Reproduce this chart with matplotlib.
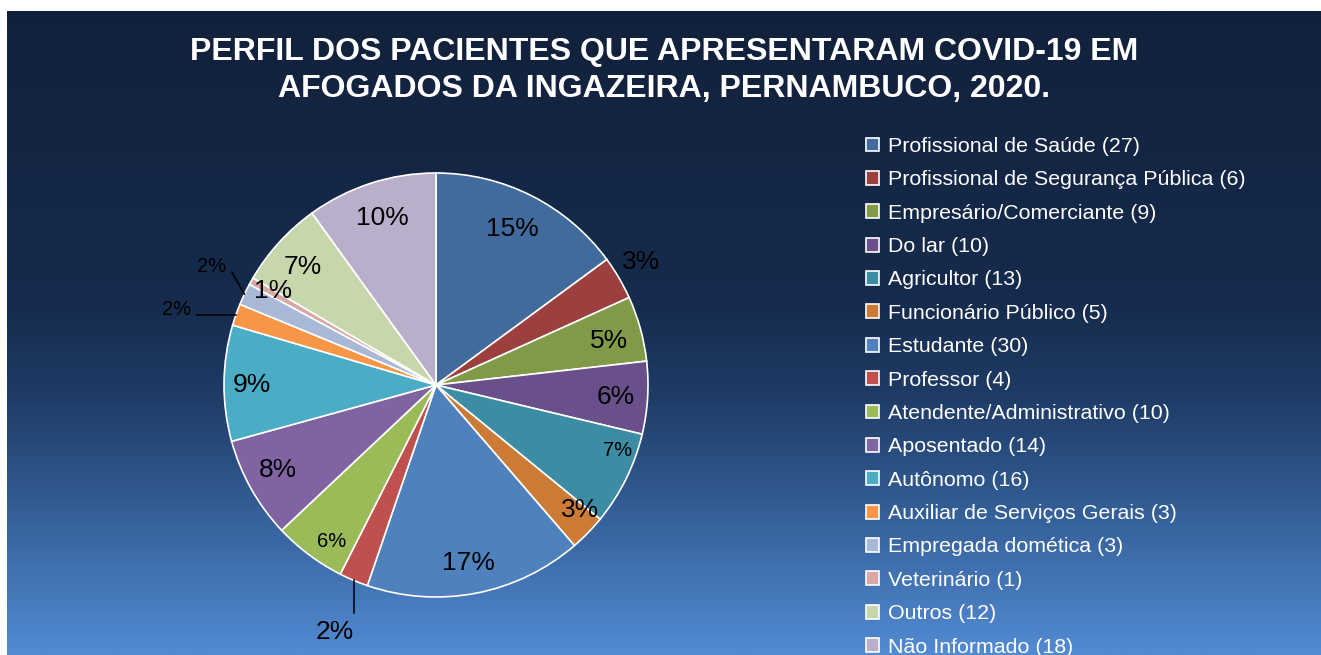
import numpy as np
import matplotlib.pyplot as plt
from matplotlib.colors import LinearSegmentedColormap

plt.rcParams['font.family'] = ['Liberation Sans', 'DejaVu Sans']

W, H = 1321, 655   # output size in pixels

categories = ['Profissional de Saúde', 'Profissional de Segurança Pública',
              'Empresário/Comerciante', 'Do lar', 'Agricultor',
              'Funcionário Público', 'Estudante', 'Professor',
              'Atendente/Administrativo', 'Aposentado', 'Autônomo',
              'Auxiliar de Serviços Gerais', 'Empregada domética',
              'Veterinário', 'Outros', 'Não Informado']
counts = [27, 6, 9, 10, 13, 5, 30, 4, 10, 14, 16, 3, 3, 1, 12, 18]
colors = ['#416b9c', '#9b403e', '#809a48', '#69508a', '#3c8ca3', '#cc7b37',
          '#4f81bd', '#c0504d', '#9bbb59', '#8064a2', '#4bacc6', '#f79646',
          '#a9b8d7', '#d8a8a7', '#c7d6ab', '#baafca']

title = ('PERFIL DOS PACIENTES QUE APRESENTARAM COVID-19 EM\n'
         'AFOGADOS DA INGAZEIRA, PERNAMBUCO, 2020.')

BIG, SMALL = 19, 14.5
# label layout: (radius, angle offset from wedge middle, font size)
inside = {0: (0.82, 0.9, BIG), 1: (1.13, 0.7, BIG), 2: (0.84, -1.1, BIG),
          3: (0.85, -0.3, BIG), 4: (0.91, 6.6, SMALL), 5: (0.90, 3.3, BIG),
          6: (0.853, -0.7, BIG), 8: (0.885, 3.1, SMALL), 9: (0.846, -1.0, BIG),
          10: (0.868, 0.5, BIG), 13: (0.89, -0.7, BIG), 14: (0.84, 0.9, BIG),
          15: (0.83, 0.0, BIG)}
# small slices with leader line: (leader vector, text offset from line end, font size)
leaders = {7: ((0.0, -0.155), (-0.09, -0.09), BIG),
           11: ((-0.184, 0.0), (-0.095, 0.026), SMALL),
           12: ((-0.059, 0.104), (-0.095, 0.028), SMALL)}

fig = plt.figure(figsize=(W / 100, H / 100), dpi=100)
fig.patch.set_facecolor('white')

# gradient background
bg = fig.add_axes([7 / W, 0, (W - 7) / W, (H - 11) / H])
cmap = LinearSegmentedColormap.from_list('bg', [
    (0.0, '#12213b'), (0.45, '#162b4d'), (0.6, '#1f3c66'),
    (0.75, '#30598f'), (0.85, '#3e6dab'), (1.0, '#528bd2')])
grad = np.linspace(0, 1, 256).reshape(-1, 1)
bg.imshow(grad, aspect='auto', cmap=cmap, extent=[0, 1, 1, 0])
bg.axis('off')

# pie
R = 212
ax = fig.add_axes([(436 - R) / W, (H - 385 - R) / H, 2 * R / W, 2 * R / H])
wedges, _ = ax.pie(counts, colors=colors, startangle=90, counterclock=False,
                   radius=1, wedgeprops=dict(edgecolor='white', linewidth=1.2))
ax.set_xlim(-1, 1)
ax.set_ylim(-1, 1)
ax.axis('off')

total = sum(counts)
for i, w in enumerate(wedges):
    pct = '{}%'.format(round(100 * counts[i] / total))
    mid = np.deg2rad((w.theta1 + w.theta2) / 2)
    if i in inside:
        r, off, fs = inside[i]
        a = mid + np.deg2rad(off)
        ax.text(r * np.cos(a), r * np.sin(a), pct, ha='center', va='center',
                fontsize=fs, color='black')
    else:
        (lx, ly), (tx, ty), fs = leaders[i]
        x0, y0 = np.cos(mid), np.sin(mid)
        ax.plot([x0, x0 + lx], [y0, y0 + ly], color='black', lw=1.1,
                clip_on=False)
        ax.text(x0 + lx + tx, y0 + ly + ty, pct, ha='center', va='center',
                fontsize=fs, color='black')

fig.text(664 / W, 1 - 70.5 / H, title, ha='center', va='center',
         fontsize=23, fontweight='bold', color='white', linespacing=1.3)

labels = ['{} ({})'.format(c, n) for c, n in zip(categories, counts)]
fig.legend(wedges, labels, loc='upper left', bbox_to_anchor=(866 / W, 1 - 137 / H),
           frameon=False, fontsize=15.4, labelcolor='white', handlelength=0.62,
           handleheight=0.62, handletextpad=0.42, labelspacing=0.672,
           borderpad=0, borderaxespad=0)

plt.savefig('out.png', dpi=100)
